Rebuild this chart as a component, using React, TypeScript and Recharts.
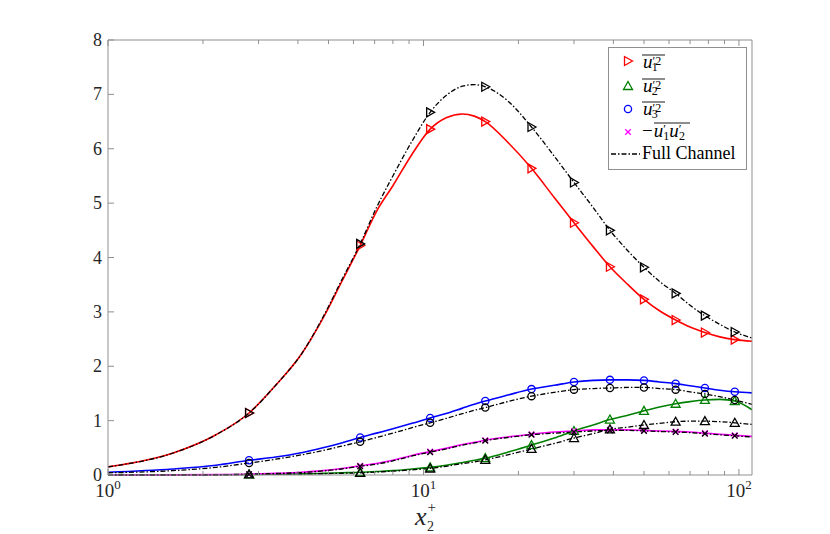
import React from 'react';
import { LineChart, Line, XAxis, YAxis, Legend } from 'recharts';

// x2+ grid (wall units)
const X = [1.0, 1.6, 2.2, 2.8, 3.4, 4.1, 4.8, 5.5, 6.3, 7.1, 8.0, 9.2, 10.5, 11.8, 13.3, 14.5, 15.7, 18.5, 22, 26, 30, 34.5, 39, 44.5, 50, 56, 63, 70, 78, 87, 97, 110];
// points that carry a marker
const MARKER_X = [2.8, 6.3, 10.5, 15.7, 22, 30, 39, 50, 63, 78, 97];

// DNS (colored)
const U1 = [0.15, 0.40, 0.74, 1.14, 1.65, 2.22, 2.88, 3.55, 4.22, 4.85, 5.32, 5.90, 6.36, 6.57, 6.64, 6.60, 6.50, 6.12, 5.64, 5.10, 4.64, 4.20, 3.83, 3.50, 3.23, 3.02, 2.85, 2.72, 2.62, 2.54, 2.49, 2.46];
const U2 = [0.0, 0.0, 0.005, 0.01, 0.015, 0.02, 0.03, 0.04, 0.05, 0.065, 0.08, 0.11, 0.14, 0.18, 0.23, 0.27, 0.31, 0.42, 0.55, 0.68, 0.81, 0.92, 1.02, 1.10, 1.18, 1.25, 1.31, 1.35, 1.38, 1.39, 1.36, 1.20];
const U3 = [0.05, 0.11, 0.18, 0.27, 0.33, 0.41, 0.50, 0.59, 0.69, 0.77, 0.85, 0.95, 1.05, 1.13, 1.23, 1.30, 1.36, 1.47, 1.58, 1.65, 1.71, 1.74, 1.75, 1.75, 1.74, 1.71, 1.68, 1.64, 1.60, 1.56, 1.53, 1.51];
const UV = [0.0, 0.003, 0.007, 0.015, 0.03, 0.05, 0.08, 0.12, 0.17, 0.21, 0.27, 0.36, 0.43, 0.49, 0.56, 0.60, 0.64, 0.70, 0.75, 0.79, 0.81, 0.83, 0.83, 0.83, 0.82, 0.81, 0.80, 0.79, 0.77, 0.75, 0.73, 0.71];

// Full channel (black)
const U1F = [0.15, 0.40, 0.74, 1.14, 1.65, 2.22, 2.90, 3.58, 4.25, 4.92, 5.50, 6.14, 6.67, 6.98, 7.15, 7.18, 7.14, 6.88, 6.40, 5.86, 5.38, 4.92, 4.50, 4.12, 3.82, 3.56, 3.34, 3.12, 2.93, 2.77, 2.63, 2.52];
const U2F = [0.0, 0.0, 0.004, 0.01, 0.013, 0.018, 0.025, 0.032, 0.04, 0.055, 0.07, 0.095, 0.12, 0.16, 0.21, 0.24, 0.28, 0.37, 0.48, 0.58, 0.68, 0.76, 0.84, 0.88, 0.92, 0.95, 0.98, 0.99, 0.99, 0.98, 0.96, 0.93];
const U3F = [0.04, 0.08, 0.14, 0.22, 0.29, 0.37, 0.45, 0.53, 0.61, 0.69, 0.77, 0.87, 0.96, 1.04, 1.13, 1.19, 1.24, 1.35, 1.45, 1.52, 1.57, 1.59, 1.60, 1.61, 1.61, 1.59, 1.57, 1.53, 1.49, 1.44, 1.38, 1.30];
const UVF = [0.0, 0.003, 0.006, 0.013, 0.027, 0.045, 0.075, 0.11, 0.16, 0.20, 0.26, 0.35, 0.42, 0.48, 0.55, 0.59, 0.63, 0.69, 0.74, 0.77, 0.79, 0.81, 0.82, 0.82, 0.81, 0.80, 0.79, 0.78, 0.76, 0.74, 0.72, 0.70];

const X_TICKS = [1, 2, 3, 4, 5, 6, 7, 8, 9, 10, 20, 30, 40, 50, 60, 70, 80, 90, 100];
const Y_TICKS = [0, 1, 2, 3, 4, 5, 6, 7, 8];
const X_DOMAIN = [1, 110];
const Y_DOMAIN = [0, 8];

const data = X.map((x, i) => ({
  x,
  u1: U1[i], u2: U2[i], u3: U3[i], uv: UV[i],
  u1f: U1F[i], u2f: U2F[i], u3f: U3F[i], uvf: UVF[i],
}));

const FONT = '"Liberation Serif", "Times New Roman", serif';
const AXIS = '#8f8f8f';
const TXT = '#262626';
const RED = '#ff0000';
const GREEN = '#008000';
const BLUE = '#0000ff';
const MAG = '#ff00ff';
const BLK = '#000000';
const DASHDOT = '5 2 1.5 2';

type Shape = 'right' | 'up' | 'circle' | 'x';

const Marker = ({ shape, color, cx, cy }: { shape: Shape; color: string; cx: number; cy: number }) => {
  const sw = 1.3;
  if (shape === 'right') {
    return <polygon points={`${cx + 4.5},${cy} ${cx - 3.5},${cy - 4.5} ${cx - 3.5},${cy + 4.5}`} fill="none" stroke={color} strokeWidth={sw} />;
  }
  if (shape === 'up') {
    return <polygon points={`${cx},${cy - 4.5} ${cx - 4.5},${cy + 3.5} ${cx + 4.5},${cy + 3.5}`} fill="none" stroke={color} strokeWidth={sw} />;
  }
  if (shape === 'circle') {
    return <circle cx={cx} cy={cy} r={3.6} fill="none" stroke={color} strokeWidth={sw} />;
  }
  return (
    <g stroke={color} strokeWidth={sw}>
      <line x1={cx - 2.8} y1={cy - 2.8} x2={cx + 2.8} y2={cy + 2.8} />
      <line x1={cx - 2.8} y1={cy + 2.8} x2={cx + 2.8} y2={cy - 2.8} />
    </g>
  );
};

const makeDot = (shape: Shape, color: string, id: string) => (props: any) => {
  const { cx, cy, index, payload } = props;
  const k = `${id}-${index}`;
  if (cx == null || cy == null || !payload || !MARKER_X.includes(payload.x)) return <g key={k} />;
  return (
    <g key={k}>
      <Marker shape={shape} color={color} cx={cx} cy={cy} />
    </g>
  );
};

const isMajor = (v: number) => {
  const e = Math.log10(v);
  return Math.abs(e - Math.round(e)) < 1e-9;
};

// axis sizes (plot box: left 108, right 752, top 40, bottom 475)
const XB_H = 40;
const XT_H = 10;
const YL_W = 30;
const YR_W = 10;

const XTickBottom = (props: any) => {
  const { x, payload, viewBox } = props;
  const y = viewBox && typeof viewBox.y === 'number' ? viewBox.y : props.y;
  const v = payload.value;
  const major = isMajor(v);
  return (
    <g>
      <line x1={x} x2={x} y1={y} y2={y - (major ? 6 : 4)} stroke={AXIS} strokeWidth={1} />
      {major && (
        <text x={x} y={y + 22} textAnchor="middle" fontFamily={FONT} fontSize={19} fill={TXT}>
          10<tspan dy={-8} fontSize={13}>{Math.round(Math.log10(v))}</tspan>
        </text>
      )}
    </g>
  );
};

const XTickTop = (props: any) => {
  const { x, payload, viewBox } = props;
  const y = viewBox && typeof viewBox.y === 'number' ? viewBox.y + viewBox.height : props.y;
  const major = isMajor(payload.value);
  return <line x1={x} x2={x} y1={y} y2={y + (major ? 6 : 4)} stroke={AXIS} strokeWidth={1} />;
};

const YTickLeft = (props: any) => {
  const { y, payload, viewBox } = props;
  const x = viewBox && typeof viewBox.x === 'number' ? viewBox.x + viewBox.width : props.x;
  return (
    <g>
      <line x1={x} x2={x + 6} y1={y} y2={y} stroke={AXIS} strokeWidth={1} />
      <text x={x - 6} y={y + 6} textAnchor="end" fontFamily={FONT} fontSize={18} fill={TXT}>
        {payload.value}
      </text>
    </g>
  );
};

const YTickRight = (props: any) => {
  const { y, viewBox } = props;
  const x = viewBox && typeof viewBox.x === 'number' ? viewBox.x : props.x;
  return <line x1={x} x2={x - 6} y1={y} y2={y} stroke={AXIS} strokeWidth={1} />;
};

const XTitle = (props: any) => {
  const vb = props.viewBox || { x: 108, y: 475, width: 644 };
  const cx = vb.x + vb.width / 2;
  const y = vb.y;
  return (
    <text x={cx - 15} y={y + 50} fontFamily={FONT} fill={TXT} fontSize={26}>
      <tspan fontStyle="italic">x</tspan>
      <tspan dx={1} dy={-13} fontSize={15}>+</tspan>
      <tspan dx={-9} dy={19} fontSize={14}>2</tspan>
    </text>
  );
};

const UTerm = ({ x, base, sub }: { x: number; base: number; sub: string }) => (
  <g>
    <text x={x} y={base} fontSize={19}>
      <tspan fontStyle="italic">u</tspan>
      <tspan dy={-3.5} fontSize={12}>′2</tspan>
      <tspan dx={-9.5} dy={6.5} fontSize={12}>{sub}</tspan>
    </text>
    <line x1={x - 1} x2={x + 22} y1={base - 13} y2={base - 13} stroke="#000" strokeWidth={0.9} />
  </g>
);

const LegendBox = () => (
  <svg width={139} height={123} style={{ display: 'block' }}>
    <rect x={0.5} y={0.5} width={138} height={122} fill="#ffffff" stroke={AXIS} strokeWidth={1} />
    <g fontFamily={FONT} fill="#000">
      <Marker shape="right" color={RED} cx={20} cy={14} />
      <UTerm x={35} base={21} sub="1" />

      <Marker shape="up" color={GREEN} cx={20} cy={39} />
      <UTerm x={35} base={45} sub="2" />

      <Marker shape="circle" color={BLUE} cx={20} cy={62} />
      <UTerm x={35} base={68} sub="3" />

      <Marker shape="x" color={MAG} cx={20} cy={85} />
      <text x={34} y={90} fontSize={19}>
        −<tspan dx={1} fontStyle="italic">u</tspan>
        <tspan dy={-4.5} fontSize={12}>′</tspan>
        <tspan dx={-2.5} dy={7} fontSize={12}>1</tspan>
        <tspan dy={-2.5} fontStyle="italic">u</tspan>
        <tspan dy={-4.5} fontSize={12}>′</tspan>
        <tspan dx={-2.5} dy={7} fontSize={12}>2</tspan>
      </text>
      <line x1={46} x2={82} y1={76} y2={76} stroke="#000" strokeWidth={0.9} />

      <line x1={3} x2={32} y1={107} y2={107} stroke={BLK} strokeWidth={1.3} strokeDasharray={DASHDOT} />
      <text x={34} y={112} fontSize={18}>Full Channel</text>
    </g>
  </svg>
);

export default function App() {
  return (
    <div style={{ position: 'absolute', left: 0, top: 0, width: 830, height: 534, background: '#fff' }}>
      <LineChart
        width={830}
        height={534}
        data={data}
        margin={{ top: 40 - XT_H, right: 78 - YR_W, bottom: 59 - XB_H, left: 108 - YL_W }}
      >
        <XAxis
          dataKey="x"
          type="number"
          scale="log"
          domain={X_DOMAIN}
          allowDataOverflow
          ticks={X_TICKS}
          interval={0}
          height={XB_H}
          tickSize={0}
          tickMargin={0}
          tickLine={false}
          axisLine={{ stroke: AXIS, strokeWidth: 1 }}
          tick={<XTickBottom />}
          label={<XTitle />}
        />
        <XAxis
          xAxisId="top"
          orientation="top"
          dataKey="x"
          type="number"
          scale="log"
          domain={X_DOMAIN}
          allowDataOverflow
          ticks={X_TICKS}
          interval={0}
          height={XT_H}
          tickSize={0}
          tickMargin={0}
          tickLine={false}
          axisLine={{ stroke: AXIS, strokeWidth: 1 }}
          tick={<XTickTop />}
        />
        <YAxis
          type="number"
          domain={Y_DOMAIN}
          ticks={Y_TICKS}
          interval={0}
          width={YL_W}
          tickSize={0}
          tickMargin={0}
          tickLine={false}
          axisLine={{ stroke: AXIS, strokeWidth: 1 }}
          tick={<YTickLeft />}
        />
        <YAxis
          yAxisId="right"
          orientation="right"
          type="number"
          domain={Y_DOMAIN}
          ticks={Y_TICKS}
          interval={0}
          width={YR_W}
          tickSize={0}
          tickMargin={0}
          tickLine={false}
          axisLine={{ stroke: AXIS, strokeWidth: 1 }}
          tick={<YTickRight />}
        />

        <Line type="monotone" dataKey="u1" stroke={RED} strokeWidth={1.6} dot={makeDot('right', RED, 'u1')} activeDot={false} isAnimationActive={false} />
        <Line type="monotone" dataKey="u2" stroke={GREEN} strokeWidth={1.6} dot={makeDot('up', GREEN, 'u2')} activeDot={false} isAnimationActive={false} />
        <Line type="monotone" dataKey="u3" stroke={BLUE} strokeWidth={1.6} dot={makeDot('circle', BLUE, 'u3')} activeDot={false} isAnimationActive={false} />
        <Line type="monotone" dataKey="uv" stroke={MAG} strokeWidth={1.6} dot={makeDot('x', MAG, 'uv')} activeDot={false} isAnimationActive={false} />

        <Line type="monotone" dataKey="u1f" stroke={BLK} strokeWidth={1.3} strokeDasharray={DASHDOT} dot={makeDot('right', BLK, 'u1f')} activeDot={false} isAnimationActive={false} />
        <Line type="monotone" dataKey="u2f" stroke={BLK} strokeWidth={1.3} strokeDasharray={DASHDOT} dot={makeDot('up', BLK, 'u2f')} activeDot={false} isAnimationActive={false} />
        <Line type="monotone" dataKey="u3f" stroke={BLK} strokeWidth={1.3} strokeDasharray={DASHDOT} dot={makeDot('circle', BLK, 'u3f')} activeDot={false} isAnimationActive={false} />
        <Line type="monotone" dataKey="uvf" stroke={BLK} strokeWidth={1.3} strokeDasharray={DASHDOT} dot={makeDot('x', BLK, 'uvf')} activeDot={false} isAnimationActive={false} />

        <Legend
          layout="vertical"
          align="center"
          verticalAlign="middle"
          content={<LegendBox />}
          wrapperStyle={{ left: 608, top: 47, width: 139, height: 123 }}
        />
      </LineChart>
    </div>
  );
}
